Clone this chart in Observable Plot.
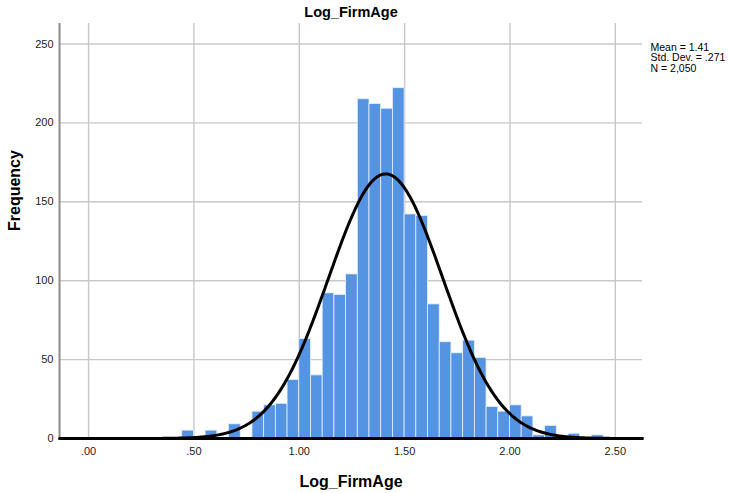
<!DOCTYPE html>
<html>
<head>
<meta charset="utf-8">
<script src="https://cdn.jsdelivr.net/npm/d3@7"></script>
<script src="https://cdn.jsdelivr.net/npm/@observablehq/plot@0.6"></script>
<style>
  html, body { margin: 0; padding: 0; background: #fff; }
  svg { display: block; font-family: "Liberation Sans", Arial, sans-serif; }
</style>
</head>
<body>
<div id="chart"></div>
<script>
// Histogram bins: width 1/18, bin index k covers [k/18, (k+1)/18]
const binWidth = 1 / 18;
const binIndex = [8, 10, 12, 14, 15, 16, 17, 18, 19, 20, 21, 22, 23, 24, 25, 26, 27, 28, 29, 30, 31, 32, 33, 34, 35, 36, 37, 38, 39, 41, 43];
const counts   = [5, 5, 9, 17, 21, 22, 37, 63, 40, 92, 91, 104, 215, 212, 209, 222, 142, 141, 85, 61, 54, 62, 51, 20, 17, 21, 14, 2, 8, 3, 2];

// Summary statistics shown in the legend
const mean = 1.41;
const stdDev = 0.271;
const n = 2050;
const statLines = ["Mean = 1.41", "Std. Dev. = .271", "N = 2,050"];

const xTicks = [0, 0.5, 1.0, 1.5, 2.0, 2.5];
const xTickLabels = [".00", ".50", "1.00", "1.50", "2.00", "2.50"];
const yTicks = [0, 50, 100, 150, 200, 250];

const bars = binIndex.map((k, i) => ({x1: k * binWidth, x2: (k + 1) * binWidth, count: counts[i]}));

const xDomain = [-0.138, 2.629];
const curve = d3.range(0, 401).map(i => {
  const x = xDomain[0] + (xDomain[1] - xDomain[0]) * i / 400;
  const z = (x - mean) / stdDev;
  return {x, y: n * binWidth * Math.exp(-0.5 * z * z) / (stdDev * Math.sqrt(2 * Math.PI))};
});

const chart = Plot.plot({
  width: 729,
  height: 493,
  marginLeft: 59,
  marginRight: 87,
  marginTop: 23,
  marginBottom: 55,
  style: {fontFamily: "'Liberation Sans', Arial, sans-serif", fontSize: "11px", color: "#222", background: "#fff"},
  x: {domain: xDomain},
  y: {domain: [0, 263]},
  marks: [
    Plot.gridX(xTicks, {stroke: "#c8c8c8", strokeOpacity: 1, strokeWidth: 1.4}),
    Plot.gridY(yTicks, {stroke: "#c8c8c8", strokeOpacity: 1, strokeWidth: 1.4}),
    Plot.rectY(bars, {x1: "x1", x2: "x2", y: "count", fill: "#5593e3", stroke: "#e8effa", strokeWidth: 0.8}),
    Plot.line(curve, {x: "x", y: "y", stroke: "#000", strokeWidth: 3, curve: "linear"}),
    Plot.ruleX([xDomain[0]], {stroke: "#8c8c8c", strokeWidth: 2}),
    Plot.ruleY([0], {stroke: "#000", strokeWidth: 3}),
    Plot.axisX(xTicks, {tickSize: 0, tickPadding: 9, tickFormat: (d, i) => xTickLabels[i], fontSize: 11, label: null}),
    Plot.axisY(yTicks, {tickSize: 0, tickPadding: 6, fontSize: 11, label: null}),
    Plot.text(["Log_FirmAge"], {frameAnchor: "top", dy: -11, lineAnchor: "middle", fontWeight: "bold", fontSize: 14.5, fill: "#000"}),
    Plot.text(["Log_FirmAge"], {frameAnchor: "bottom", dy: 43, lineAnchor: "middle", fontWeight: "bold", fontSize: 16, fill: "#000"}),
    Plot.text(["Frequency"], {frameAnchor: "left", dx: -45, rotate: -90, fontWeight: "bold", fontSize: 16, fill: "#000"}),
    ...statLines.map((line, i) => Plot.text([line], {frameAnchor: "top-right", dx: 8, dy: 20 + i * 10.5, textAnchor: "start", lineAnchor: "top", fontSize: 10.5, fill: "#000"}))
  ]
});
document.getElementById("chart").appendChild(chart);
</script>
</body>
</html>
